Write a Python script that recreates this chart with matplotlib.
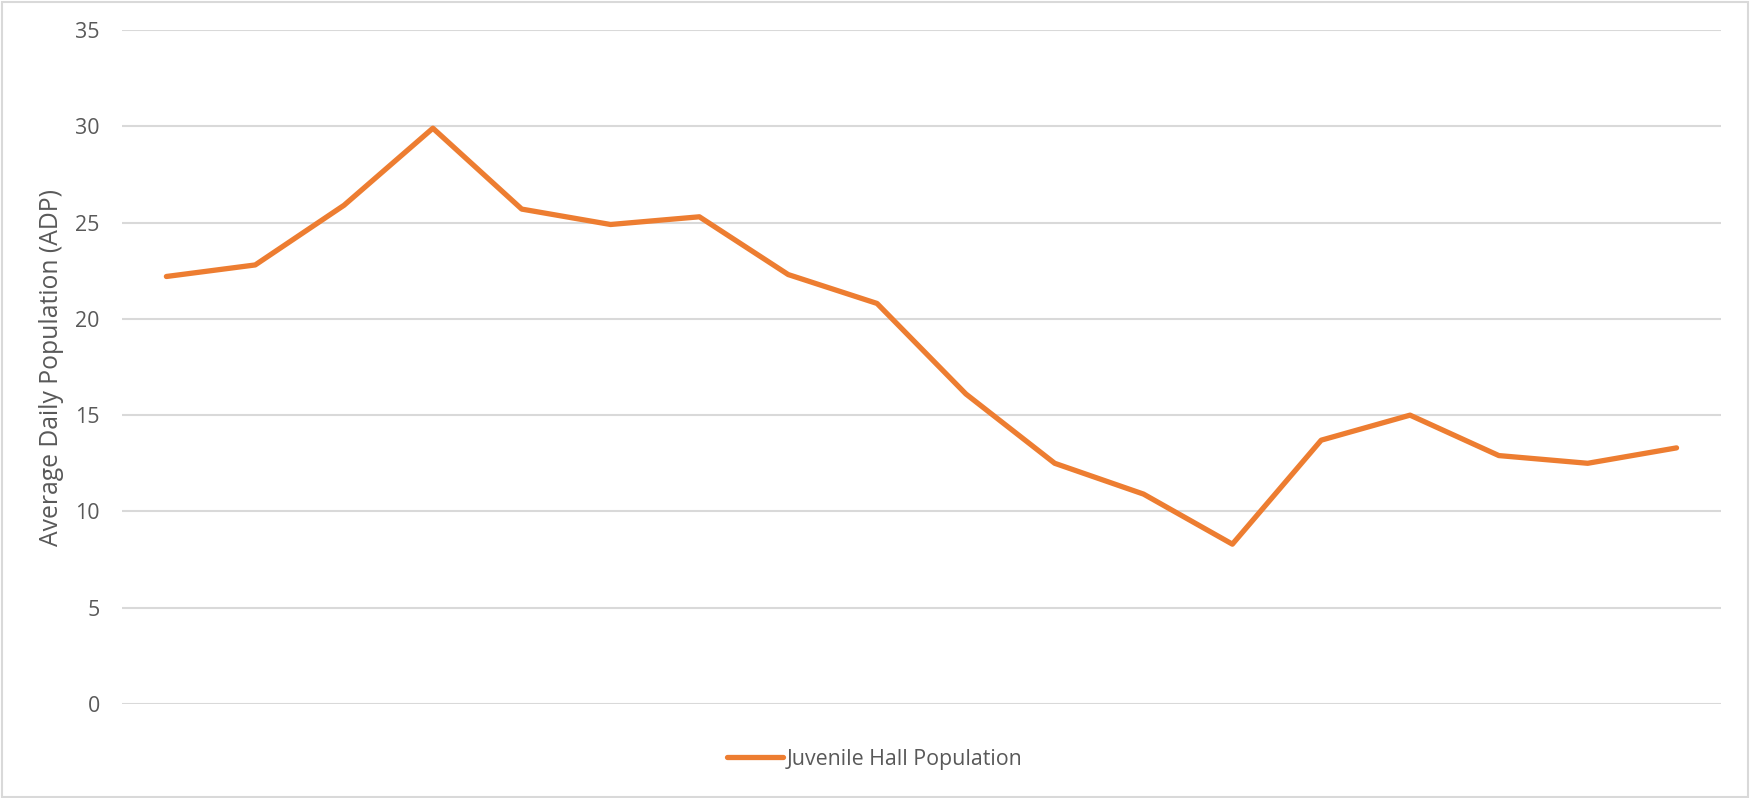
import matplotlib.pyplot as plt
from matplotlib.patches import Rectangle
from matplotlib.lines import Line2D

# (no x labels shown)
periods = list(range(18))
adp = [22.2, 22.8, 25.9, 29.9, 25.7, 24.9, 25.3, 22.3, 20.8, 16.1,
       12.5, 10.9, 8.3, 13.7, 15.0, 12.9, 12.5, 13.3]
series_name = 'Juvenile Hall Population'
y_ticks = [0, 5, 10, 15, 20, 25, 30, 35]

plt.rcParams['font.family'] = ['Open Sans', 'DejaVu Sans']
text_col = '#595959'
grid_col = '#d9d9d9'
line_col = '#ED7D31'

fig = plt.figure(figsize=(17.5, 7.98), dpi=100)
ax = fig.add_axes([0.0697, 0.1178, 0.9137, 0.8446])

ax.plot(periods, adp, color=line_col, linewidth=3.8, solid_capstyle='round',
        solid_joinstyle='round', label=series_name)

ax.set_xlim(-0.5, 17.5)
ax.set_ylim(0, 35)
ax.set_yticks(y_ticks)
ax.set_xticks([])
ax.yaxis.grid(True, color=grid_col, linewidth=1.5)
ax.set_axisbelow(True)
for s in ax.spines.values():
    s.set_visible(False)
ax.tick_params(axis='y', length=0, pad=16, labelsize=15.4, labelcolor=text_col)
ax.text(-0.0438, 0.5, 'Average Daily Population (ADP)', transform=ax.transAxes,
        rotation=90, ha='center', va='center', fontsize=17.8, color=text_col)

handle = Line2D([], [], color=line_col, linewidth=3.8, solid_capstyle='round')
fig.legend([handle], [series_name], loc='center', bbox_to_anchor=(0.5, 1 - 759 / 798),
           frameon=False, fontsize=15.4, labelcolor=text_col, handlelength=2.6,
           handletextpad=0.2)

# thin chart-area border
fig.patches.append(Rectangle((0.001, 0.001), 0.998, 0.997, transform=fig.transFigure,
                             fill=False, edgecolor=grid_col, linewidth=1.5))

fig.savefig('out.png', dpi=100, facecolor='white')
